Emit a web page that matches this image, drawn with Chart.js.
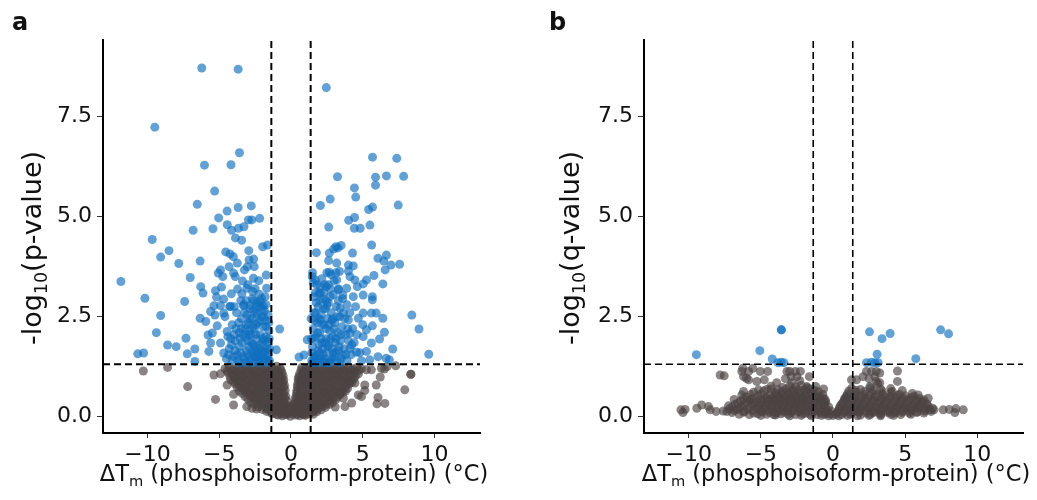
<!DOCTYPE html>
<html>
<head>
<meta charset="utf-8">
<title>Volcano plots</title>
<script src="https://cdn.jsdelivr.net/npm/chart.js@4.4.0/dist/chart.umd.min.js"></script>
<style>
  html, body { margin: 0; padding: 0; background: #fff; }
  #wrap { position: relative; width: 1037px; height: 500px; overflow: hidden; font-family: "DejaVu Sans", sans-serif; color: #111; }
  canvas { position: absolute; top: 0; }
  #cA { left: 0; }
  #cB { left: 518px; }
  .tag { position: absolute; font-weight: bold; font-size: 24px; line-height: 1; }
  .ytitle { position: absolute; font-size: 27px; line-height: 1; white-space: nowrap; transform: translate(-50%, -50%) rotate(-90deg); }
  .xtitle { position: absolute; font-size: 22.5px; line-height: 1; white-space: nowrap; transform: translateX(-50%); }
  sub { font-size: 0.65em; vertical-align: -0.35em; line-height: 0; }
</style>
</head>
<body>
<div id="wrap">
  <canvas id="cA" width="518" height="500"></canvas>
  <canvas id="cB" width="519" height="500"></canvas>
  <div class="tag" style="left:12px; top:10px;">a</div>
  <div class="tag" style="left:549px; top:10px;">b</div>
  <div class="ytitle" style="left:31px; top:248px;">-log<sub>10</sub>(p-value)</div>
  <div class="ytitle" style="left:569px; top:248px;">-log<sub>10</sub>(q-value)</div>
  <div class="xtitle" style="left:294px; top:462px;">&Delta;T<sub>m</sub> (phosphoisoform-protein) (&deg;C)</div>
  <div class="xtitle" style="left:836px; top:462px;">&Delta;T<sub>m</sub> (phosphoisoform-protein) (&deg;C)</div>
</div>
<script>
// --- Data ---
// axis ranges / ticks (shared by both panels)
const xTicks = [-10, -5, 0, 5, 10];
const yTicks = [0, 2.5, 5, 7.5];
const xMin = -13.1, xMax = 13.17;
const yMin = -0.41, yMax = 9.42;
// cut-offs: |dTm| and -log10(0.05)
const fcCut = 1.37;
const sigCut = 1.31;

// panel a: significant (p < 0.05) points, [dTm, -log10 p]
const sigA = [
  [-6.22,8.72],[-3.68,8.69],[-9.49,7.24],[-3.59,6.60],[-6.03,6.29],[-4.18,6.30],[-5.32,5.64],[-6.53,5.31],
  [-3.68,5.23],[-2.77,5.27],[-4.45,5.14],[-5.04,4.97],[-2.97,4.92],[-2.73,4.92],[-2.18,4.96],[-6.82,4.66],
  [-5.44,4.70],[-4.44,4.80],[-4.14,4.66],[-3.66,4.71],[-3.28,4.75],[-3.87,4.47],[-3.44,4.41],[-9.67,4.43],
  [-1.97,4.25],[-1.64,4.29],[-8.50,4.15],[-9.08,3.99],[-7.82,3.83],[-6.33,3.89],[-4.55,4.12],[-4.25,4.07],
  [-4.02,4.00],[-2.94,4.15],[-2.92,3.92],[-2.60,3.94],[-3.74,3.84],[-4.31,3.75],[-3.04,3.75],[-2.56,3.75],
  [-4.91,3.67],[-3.24,3.67],[-5.07,3.59],[-4.00,3.59],[-1.73,3.54],[-11.85,3.38],[-7.02,3.48],[-4.75,3.50],
  [-3.88,3.50],[-2.62,3.46],[-3.38,3.39],[-6.29,3.25],[-4.84,3.24],[-3.72,3.19],[-3.08,3.21],[-1.70,3.21],
  [-5.26,3.15],[-6.13,3.09],[-4.16,3.07],[-3.42,3.07],[-2.67,3.13],[-2.21,3.06],[-10.18,2.96],[-7.41,2.88],
  [-5.19,2.99],[-4.69,2.94],[-3.13,2.90],[-2.16,2.88],[-5.37,2.77],[-4.91,2.78],[-4.22,2.76],[-3.31,2.77],
  [-2.85,2.78],[-2.39,2.76],[-1.94,2.77],[-9.08,2.53],[-9.38,2.10],[-6.33,2.46],[-5.94,2.38],[-5.60,2.63],
  [-5.30,2.54],[-5.14,2.27],[-5.78,2.04],[-5.48,2.09],[-7.32,1.96],[-8.60,1.79],[-8.00,1.75],[-10.68,1.57],
  [-10.27,1.59],[-7.23,1.57],[-6.70,1.69],[-6.70,1.38],[-5.72,1.63],[-5.60,1.84],[-4.91,1.84],[-4.69,1.59],
  [-4.45,2.13],[-4.27,2.75],[-4.69,2.59],[-0.79,2.19],[-1.02,1.67],
  [-4.5,1.45],[-4.3,1.7],[-4.1,2.3],[-4.0,1.5],[-3.9,1.9],[-3.8,2.6],[-3.7,1.4],[-3.6,2.1],[-3.5,1.6],
  [-3.45,2.45],[-3.4,1.85],[-3.3,2.8],[-3.25,1.45],[-3.2,2.2],[-3.1,1.65],[-3.05,2.55],[-3.0,1.9],[-2.95,2.35],
  [-2.9,1.4],[-2.85,2.7],[-2.8,2.05],[-2.75,1.6],[-2.7,2.45],[-2.65,1.8],[-2.6,2.9],[-2.55,2.2],[-2.5,1.5],
  [-2.45,2.6],[-2.4,1.95],[-2.35,1.38],[-2.3,2.35],[-2.25,1.7],[-2.2,2.75],[-2.15,2.05],[-2.1,1.5],[-2.05,2.5],
  [-2.0,1.85],[-1.95,2.25],[-1.9,1.42],[-1.85,2.65],[-1.8,1.65],[-1.75,2.0],[-1.7,2.4],[-1.65,1.5],[-1.6,1.85],
  [-1.55,2.15],[-1.5,1.4],[-1.48,1.7],[-3.55,1.35],[-3.15,1.35],[-2.7,1.35],[-2.2,1.35],[-1.7,1.35],[-4.2,1.95],
  [-3.85,2.2],[-3.35,2.05],[-2.9,2.15],[-2.45,2.3],[-2.0,2.7],[-2.6,1.55],[-2.3,1.6],[-1.95,1.6],[-3.0,1.55],
  [-2.8,1.45],[-2.5,1.75],[-2.15,1.8],[-1.8,1.9],[-3.6,1.75],[-4.4,2.0],[-4.6,2.5],[-3.95,2.75],[-3.5,2.9],
  [-1.6,2.55],[-1.75,2.8],[-2.35,2.85],[-1.58,1.55],
  [-4.35,1.55],[-4.15,1.8],[-3.95,2.05],[-3.75,1.55],[-3.65,2.35],[-3.55,1.95],[-3.35,1.5],[-3.25,2.6],
  [-3.15,2.0],[-2.95,1.75],[-2.85,2.45],[-2.75,1.85],[-2.65,2.25],[-2.55,1.65],[-2.45,2.05],[-2.35,2.55],
  [-2.25,1.45],[-2.15,2.4],[-2.05,1.65],[-1.95,1.95],[-1.85,1.45],[-1.75,2.25],[-1.65,1.7],[-1.55,2.35],
  [-1.52,1.95],[-2.05,2.95],[-2.5,3.2],[-2.25,3.4],[-3.0,3.3],[-1.8,3.0],[-2.7,2.95],[-3.1,2.3],[-3.9,1.65],
  [-4.1,1.4],[-2.4,1.5],[-2.95,2.05],[-3.45,2.2],[-2.6,2.65],[-1.9,2.5],[-1.6,1.4],
  [2.46,8.23],[5.68,6.49],[7.37,6.46],[3.24,6.00],[5.89,5.99],[6.65,6.02],[7.85,6.01],[5.89,5.79],[4.42,5.72],
  [4.51,5.49],[2.73,5.44],[2.05,5.28],[7.47,5.29],[5.68,5.24],[5.41,5.18],[4.43,4.98],[4.02,4.91],[2.63,4.74],
  [4.41,4.71],[4.82,4.71],[5.50,4.79],[5.62,4.29],[3.13,4.25],[3.49,4.28],[1.77,4.10],[2.67,4.09],[2.97,4.19],
  [3.27,4.22],[4.29,4.09],[6.06,3.96],[6.65,4.04],[6.47,3.89],[6.97,3.79],[7.57,3.81],[6.56,3.67],[5.78,3.53],
  [6.40,3.32],[2.62,3.90],[3.19,3.84],[4.00,3.79],[4.34,3.77],[4.00,3.64],[2.67,3.61],[3.13,3.60],[3.38,3.63],
  [1.48,3.50],[1.70,3.42],[2.05,3.25],[2.46,3.25],[3.19,3.42],[4.11,3.50],[4.45,3.42],[5.26,3.42],[5.03,3.32],
  [4.62,3.25],[3.88,3.21],[3.31,3.17],[2.05,3.09],[2.73,3.00],[3.61,3.04],[4.34,3.00],[5.03,3.04],[5.67,3.00],
  [5.67,2.92],[8.42,2.54],[8.92,2.19],[9.60,1.56],[6.40,2.46],[5.94,2.59],[5.60,2.59],[5.03,2.59],[4.69,2.46],
  [5.67,2.27],[5.26,2.17],[5.03,2.00],[6.51,2.11],[6.17,1.94],[5.60,1.84],[5.26,1.63],[4.57,1.61],[7.09,1.69],
  [6.06,1.50],[6.63,1.46],[6.86,1.42],[5.48,1.42],[4.91,1.40],[4.23,1.79],[4.11,2.09],[4.00,2.42],[3.42,2.71],
  [2.51,2.79],[0.56,1.49],[0.91,1.54],[1.13,1.92],[1.70,2.59],[2.05,2.42],
  [1.45,1.4],[1.5,1.75],[1.55,2.2],[1.6,2.6],[1.65,1.5],[1.7,2.0],[1.75,2.85],[1.8,1.38],[1.85,2.35],[1.9,1.65],
  [1.95,3.1],[2.0,2.1],[2.05,1.45],[2.1,2.55],[2.15,1.85],[2.2,2.95],[2.25,1.55],[2.3,2.3],[2.35,1.35],[2.4,2.7],
  [2.45,1.95],[2.5,1.6],[2.55,2.45],[2.6,3.3],[2.65,1.8],[2.7,2.15],[2.75,1.4],[2.8,2.6],[2.85,1.7],[2.9,2.0],
  [2.95,3.05],[3.0,1.5],[3.05,2.35],[3.1,1.85],[3.15,2.75],[3.2,1.4],[3.25,2.1],[3.3,1.65],[3.4,2.5],[3.45,1.9],
  [3.5,1.45],[3.55,2.25],[3.6,2.95],[3.7,1.7],[3.8,2.05],[3.9,1.4],[4.0,1.9],[4.1,2.6],[4.2,1.55],[4.3,2.2],
  [4.4,1.85],[1.5,1.35],[1.7,1.35],[2.0,1.35],[2.6,1.35],[3.4,1.35],[2.3,3.1],[1.8,3.3],[2.15,3.45],[2.8,3.55],
  [1.6,3.0],[3.3,3.2],[2.45,2.9],[1.95,2.45],[2.7,1.35],[3.75,2.45],[4.6,2.05],[4.8,1.6],[5.0,2.3],[1.4,2.45],
  [1.42,1.95],[1.5,3.6],[1.55,3.35],[3.9,2.8],[4.5,2.75],[2.9,2.45],[3.1,1.6],[2.2,1.7],
  [1.45,1.6],[1.55,1.95],[1.65,2.4],[1.75,1.55],[1.85,2.1],[1.9,2.75],[2.0,1.6],[2.1,1.95],[2.15,2.3],[2.25,2.7],
  [2.3,1.45],[2.4,1.85],[2.45,2.2],[2.55,1.75],[2.6,2.85],[2.65,2.3],[2.75,1.95],[2.85,2.4],[2.95,1.6],[3.0,2.2],
  [3.15,1.95],[3.2,2.5],[3.35,1.75],[3.5,2.05],[3.6,1.55],[3.65,2.6],[3.8,1.55],[3.95,2.2],[4.1,1.7],[2.0,2.9],
  [2.35,3.3],[1.7,3.1],[2.75,3.2],[3.0,3.4],[2.5,3.6],[2.2,1.4],[1.6,1.45],[1.95,1.8],[2.85,1.45],[3.3,2.9]
];

// panel a: non-significant points
const nsA = [
  [-10.29,1.14],[-8.60,1.23],[-7.20,0.75],[-5.26,0.43],[-4.00,0.29],[-5.37,1.04],[-4.91,1.07],[-4.45,0.79],
  [-4.00,0.56],[-2.73,0.21],[-2.39,0.19],[-3.08,0.25],
  [8.35,1.06],[8.35,1.06],[7.93,0.67],[5.99,0.32],[6.06,0.48],[5.94,0.79],[6.22,0.99],[6.51,1.19],[5.60,1.17],
  [5.14,0.79],[5.14,0.65],[4.69,0.54],[5.26,1.17],[4.91,0.50],[4.23,0.34],[3.76,0.25],[3.08,0.24],[3.65,0.46],
  [4.45,0.84],[6.54,0.33],[6.3,1.21],[6.7,1.25],[7.3,1.27],
  [-4.6,1.2],[-4.3,1.25],[-4.0,1.18],[-3.7,1.24],[-3.4,1.21],[-3.1,1.26],[-2.8,1.19],[-2.5,1.23],[-2.2,1.26],
  [-1.9,1.2],[-1.6,1.24],[-1.3,1.22],[-1.0,1.26],[-0.75,1.21],
  [-4.4,1.1],[-4.1,1.06],[-3.8,1.11],[-3.5,1.05],[-3.2,1.09],[-2.9,1.12],[-2.6,1.06],[-2.3,1.1],[-2.0,1.07],
  [-1.7,1.11],[-1.4,1.05],[-1.1,1.09],[-0.85,1.06],[-0.62,1.1],
  [-4.2,0.92],[-3.9,0.96],[-3.6,0.93],[-3.3,0.97],[-3.0,0.91],[-2.7,0.95],[-2.4,0.98],[-2.1,0.92],[-1.8,0.95],
  [-1.5,0.91],[-1.2,0.96],[-0.95,0.93],[-0.7,0.97],[-0.5,0.92],
  [-3.9,0.82],[-3.6,0.78],[-3.3,0.81],[-3.0,0.77],[-2.7,0.83],[-2.4,0.79],[-2.1,0.8],[-1.8,0.84],[-1.5,0.78],
  [-1.2,0.81],[-0.9,0.79],[-0.65,0.83],[-0.45,0.78],
  [-3.6,0.64],[-3.3,0.68],[-3.0,0.65],[-2.7,0.69],[-2.4,0.63],[-2.1,0.67],[-1.8,0.64],[-1.5,0.68],[-1.2,0.66],
  [-0.9,0.63],[-0.65,0.67],[-0.4,0.65],
  [-3.2,0.5],[-2.9,0.54],[-2.6,0.51],[-2.3,0.55],[-2.0,0.49],[-1.7,0.53],[-1.4,0.5],[-1.1,0.54],[-0.85,0.51],
  [-0.6,0.53],[-0.35,0.5],
  [-2.8,0.36],[-2.5,0.4],[-2.2,0.37],[-1.9,0.41],[-1.6,0.35],[-1.3,0.39],[-1.0,0.37],[-0.75,0.4],[-0.5,0.36],
  [-0.28,0.39],
  [-2.3,0.24],[-2.0,0.27],[-1.7,0.23],[-1.4,0.26],[-1.1,0.24],[-0.8,0.27],[-0.55,0.23],[-0.3,0.26],[-0.1,0.24],
  [-1.7,0.13],[-1.4,0.1],[-1.1,0.14],[-0.8,0.11],[-0.5,0.13],[-0.25,0.1],[0.0,0.12],
  [-0.9,0.04],[-0.6,0.02],[-0.3,0.05],[-0.05,0.01],
  [-4.45,1.15],[-4.15,1.16],[-3.85,1.14],[-3.55,1.17],[-3.25,1.15],[-2.95,1.16],[-2.65,1.14],[-2.35,1.17],
  [-2.05,1.15],[-1.75,1.16],[-1.45,1.14],[-1.15,1.17],[-0.9,1.15],[-0.7,1.16],
  [-4.25,1.0],[-3.95,1.02],[-3.65,0.99],[-3.35,1.01],[-3.05,1.03],[-2.75,1.0],[-2.45,1.02],[-2.15,0.99],
  [-1.85,1.01],[-1.55,1.03],[-1.25,1.0],[-0.95,1.02],[-0.7,0.99],[-0.55,1.02],
  [-4.0,0.87],[-3.75,0.88],[-3.45,0.86],[-3.15,0.89],[-2.85,0.87],[-2.55,0.88],[-2.25,0.86],[-1.95,0.88],
  [-1.65,0.87],[-1.35,0.89],[-1.05,0.86],[-0.8,0.88],[-0.55,0.86],
  [-3.75,0.73],[-3.45,0.72],[-3.15,0.74],[-2.85,0.71],[-2.55,0.73],[-2.25,0.74],[-1.95,0.72],[-1.65,0.73],
  [-1.35,0.71],[-1.05,0.74],[-0.8,0.72],[-0.5,0.73],
  [-3.4,0.58],[-3.1,0.6],[-2.8,0.57],[-2.5,0.59],[-2.2,0.61],[-1.9,0.58],[-1.6,0.6],[-1.3,0.57],[-1.0,0.59],
  [-0.75,0.6],[-0.5,0.58],
  [-3.0,0.44],[-2.7,0.46],[-2.4,0.43],[-2.1,0.45],[-1.8,0.47],[-1.5,0.44],[-1.2,0.46],[-0.95,0.43],[-0.7,0.45],
  [-0.45,0.46],
  [-2.55,0.31],[-2.25,0.3],[-1.95,0.32],[-1.65,0.29],[-1.35,0.31],[-1.05,0.33],[-0.8,0.3],[-0.55,0.32],[-0.35,0.3],
  [-2.0,0.18],[-1.7,0.19],[-1.4,0.17],[-1.1,0.19],[-0.8,0.18],[-0.55,0.17],[-0.3,0.19],[-0.1,0.17],
  [-1.3,0.07],[-1.0,0.06],[-0.7,0.08],[-0.45,0.06],[-0.2,0.07],
  [0.75,1.23],[1.0,1.19],[1.3,1.25],[1.6,1.21],[1.9,1.24],[2.2,1.19],[2.5,1.26],[2.8,1.22],[3.1,1.2],[3.4,1.25],
  [3.7,1.21],[4.0,1.24],[4.3,1.19],[4.6,1.23],[4.9,1.2],
  [0.6,1.07],[0.85,1.11],[1.1,1.05],[1.4,1.09],[1.7,1.12],[2.0,1.06],[2.3,1.1],[2.6,1.07],[2.9,1.11],[3.2,1.05],
  [3.5,1.09],[3.8,1.12],[4.1,1.06],[4.4,1.1],[4.7,1.07],
  [0.5,0.95],[0.7,0.91],[0.95,0.96],[1.2,0.93],[1.5,0.97],[1.8,0.92],[2.1,0.95],[2.4,0.91],[2.7,0.96],[3.0,0.93],
  [3.3,0.97],[3.6,0.92],[3.9,0.95],[4.2,0.91],[4.4,0.96],
  [0.45,0.79],[0.65,0.83],[0.9,0.78],[1.2,0.82],[1.5,0.79],[1.8,0.84],[2.1,0.8],[2.4,0.77],[2.7,0.83],[3.0,0.8],
  [3.3,0.78],[3.6,0.82],[3.9,0.79],[4.1,0.83],
  [0.4,0.65],[0.65,0.68],[0.9,0.63],[1.2,0.67],[1.5,0.64],[1.8,0.69],[2.1,0.65],[2.4,0.63],[2.7,0.68],[3.0,0.66],
  [3.3,0.63],[3.6,0.67],[3.8,0.64],
  [0.35,0.51],[0.6,0.54],[0.85,0.5],[1.1,0.53],[1.4,0.49],[1.7,0.54],[2.0,0.51],[2.3,0.55],[2.6,0.5],[2.9,0.53],
  [3.2,0.49],[3.4,0.54],
  [0.28,0.37],[0.5,0.4],[0.75,0.36],[1.0,0.39],[1.3,0.37],[1.6,0.41],[1.9,0.36],[2.2,0.39],[2.5,0.37],[2.75,0.4],
  [2.9,0.35],
  [0.1,0.26],[0.3,0.23],[0.55,0.27],[0.8,0.24],[1.1,0.26],[1.4,0.23],[1.7,0.27],[2.0,0.24],[2.2,0.26],[2.4,0.23],
  [0.25,0.11],[0.5,0.14],[0.8,0.1],[1.1,0.13],[1.4,0.11],[1.6,0.14],[1.8,0.12],
  [0.3,0.04],[0.6,0.02],[0.85,0.05],[1.0,0.03],
  [0.7,1.16],[0.9,1.14],[1.15,1.17],[1.45,1.15],[1.75,1.16],[2.05,1.14],[2.35,1.17],[2.65,1.15],[2.95,1.16],
  [3.25,1.14],[3.55,1.17],[3.85,1.15],[4.15,1.16],[4.45,1.14],[4.75,1.16],
  [0.55,1.0],[0.75,1.02],[1.0,0.99],[1.25,1.01],[1.55,1.03],[1.85,1.0],[2.15,1.02],[2.45,0.99],[2.75,1.01],
  [3.05,1.03],[3.35,1.0],[3.65,1.02],[3.95,0.99],[4.25,1.01],[4.5,1.02],
  [0.5,0.87],[0.8,0.88],[1.05,0.86],[1.35,0.89],[1.65,0.87],[1.95,0.88],[2.25,0.86],[2.55,0.88],[2.85,0.87],
  [3.15,0.89],[3.45,0.86],[3.75,0.88],[4.05,0.87],[4.25,0.86],
  [0.45,0.73],[0.75,0.72],[1.05,0.74],[1.35,0.71],[1.65,0.73],[1.95,0.74],[2.25,0.72],[2.55,0.73],[2.85,0.71],
  [3.15,0.74],[3.45,0.72],[3.75,0.73],[3.95,0.71],
  [0.4,0.58],[0.7,0.6],[1.0,0.57],[1.3,0.59],[1.6,0.61],[1.9,0.58],[2.2,0.6],[2.5,0.57],[2.8,0.59],[3.1,0.6],
  [3.4,0.58],[3.6,0.6],
  [0.3,0.44],[0.55,0.46],[0.85,0.43],[1.15,0.45],[1.45,0.47],[1.75,0.44],[2.05,0.46],[2.35,0.43],[2.65,0.45],
  [2.95,0.46],[3.15,0.44],
  [0.2,0.31],[0.45,0.3],[0.7,0.32],[0.95,0.29],[1.25,0.31],[1.55,0.33],[1.85,0.3],[2.15,0.32],[2.45,0.3],[2.7,0.31],
  [0.1,0.18],[0.35,0.19],[0.65,0.17],[0.95,0.19],[1.25,0.18],[1.55,0.17],[1.85,0.19],[2.1,0.17],
  [0.15,0.07],[0.45,0.06],[0.7,0.08],[1.0,0.06],[1.3,0.07],[1.55,0.06]
];

// panel b: significant (q < 0.05) points, [dTm, -log10 q]
const sigB = [
  [-9.47,1.55],[-5.07,1.65],[-4.21,1.44],[-3.58,2.17],[-3.58,2.17],[-3.82,1.35],[-3.40,1.35],[-3.6,1.36],
  [2.53,2.12],[3.40,1.95],[3.96,2.08],[7.46,2.17],[8.01,2.07],[3.06,1.56],[5.74,1.45],[2.32,1.35],[2.67,1.36],
  [3.13,1.35],[2.9,1.35]
];

// panel b: non-significant points
const nsB = [
  [-10.54,0.17],[-10.25,0.18],[-10.4,0.1],[-9.44,0.21],[-9.10,0.29],[-8.63,0.25],[-8.51,0.17],[-8.10,0.13],
  [-7.82,1.04],[-7.54,1.02],[-7.24,0.27],[-7.36,0.13],[-6.85,0.43],[-6.32,0.54],[-6.2,0.63],[-6.67,0.17],
  [-6.32,1.13],[-5.85,1.13],[-6.2,1.0],[-5.85,0.92],[-5.74,0.42],[-5.28,0.88],[-5.16,0.67],[-4.76,0.92],
  [-5.04,1.13],[-4.53,1.13],[-4.28,0.69],[-3.19,1.13],[-2.61,1.13],[-2.26,1.13],[-2.85,0.85],[-2.5,1.0],
  [-1.81,0.75],[-1.64,1.0],[-0.65,0.69],[-0.53,0.42],[-6.25,1.21],[-5.56,1.21],[-6.0,0.96],[-3.0,1.13],
  [-2.9,1.0],[-3.3,0.95],[-2.3,0.9],[-3.9,0.85],
  [4.47,1.14],[4.47,0.88],[2.32,1.13],[2.67,1.13],[3.24,1.09],[1.28,0.92],[1.63,0.92],[2.08,1.0],[3.24,0.85],
  [2.55,0.75],[0.81,0.46],[6.6,0.46],[5.9,0.54],[7.64,0.17],[8.06,0.18],[8.52,0.2],[9.03,0.17],[8.45,0.1],
  [6.72,0.17],[2.9,1.0],[3.0,1.13],[2.5,0.95],[3.0,0.88],[3.1,0.82],
  [-4.3,0.76],[-3.5,0.73],[-3.0,0.77],[-2.6,0.74],[-2.2,0.78],[-1.8,0.72],[-1.2,0.75],
  [-5.5,0.61],[-4.8,0.64],[-4.0,0.6],[-3.5,0.63],[-3.1,0.6],[-2.7,0.64],[-2.3,0.61],[-1.9,0.63],[-1.5,0.6],[-1.0,0.62],
  [-6.0,0.49],[-5.2,0.52],[-4.6,0.48],[-4.1,0.51],[-3.7,0.5],[-3.3,0.53],[-2.9,0.49],[-2.5,0.51],[-2.1,0.48],
  [-1.7,0.52],[-1.3,0.5],[-0.9,0.49],
  [-6.4,0.39],[-5.8,0.41],[-5.3,0.38],[-4.8,0.42],[-4.4,0.4],[-4.0,0.38],[-3.6,0.41],[-3.2,0.39],[-2.8,0.42],
  [-2.4,0.38],[-2.0,0.4],[-1.6,0.41],[-1.2,0.38],[-0.8,0.4],[-0.5,0.37],
  [-6.8,0.3],[-6.2,0.28],[-5.6,0.31],[-5.1,0.29],[-4.6,0.32],[-4.2,0.28],[-3.8,0.3],[-3.4,0.31],[-3.0,0.28],
  [-2.6,0.3],[-2.2,0.32],[-1.8,0.29],[-1.4,0.3],[-1.0,0.28],[-0.6,0.3],
  [-7.2,0.19],[-6.5,0.21],[-5.9,0.18],[-5.3,0.2],[-4.8,0.22],[-4.3,0.19],[-3.9,0.21],[-3.5,0.18],[-3.1,0.2],
  [-2.7,0.22],[-2.3,0.19],[-1.9,0.2],[-1.5,0.21],[-1.1,0.18],[-0.7,0.2],[-0.4,0.17],
  [-7.0,0.1],[-6.2,0.11],[-5.5,0.09],[-4.9,0.12],[-4.4,0.1],[-3.9,0.09],[-3.4,0.11],[-2.9,0.1],[-2.4,0.12],
  [-1.9,0.09],[-1.4,0.11],[-0.9,0.1],[-0.5,0.08],
  [-5.0,0.03],[-4.0,0.04],[-3.0,0.02],[-2.2,0.03],[-1.5,0.02],[-0.8,0.03],[-0.3,0.02],[0.0,0.03],
  [-4.6,0.68],[-3.8,0.67],[-3.25,0.69],[-2.85,0.66],[-2.45,0.68],[-2.0,0.67],[-1.6,0.69],[-1.3,0.66],
  [-5.7,0.55],[-5.0,0.56],[-4.35,0.54],[-3.9,0.56],[-3.5,0.55],[-3.1,0.57],[-2.7,0.54],[-2.3,0.56],[-1.9,0.55],
  [-1.5,0.57],[-1.1,0.54],[-0.7,0.55],
  [-6.2,0.44],[-5.55,0.45],[-5.05,0.43],[-4.6,0.45],[-4.2,0.44],[-3.8,0.46],[-3.4,0.43],[-3.0,0.45],[-2.6,0.44],
  [-2.2,0.46],[-1.8,0.43],[-1.4,0.45],[-1.0,0.44],[-0.65,0.46],
  [-6.6,0.34],[-6.0,0.35],[-5.45,0.33],[-4.95,0.35],[-4.5,0.34],[-4.1,0.36],[-3.7,0.33],[-3.3,0.35],[-2.9,0.34],
  [-2.5,0.36],[-2.1,0.33],[-1.7,0.35],[-1.3,0.34],[-0.9,0.36],[-0.55,0.33],
  [-7.0,0.24],[-6.35,0.25],[-5.75,0.23],[-5.2,0.25],[-4.7,0.24],[-4.25,0.26],[-3.85,0.23],[-3.45,0.25],
  [-3.05,0.24],[-2.65,0.26],[-2.25,0.23],[-1.85,0.25],[-1.45,0.24],[-1.05,0.26],[-0.65,0.23],[-0.3,0.24],
  [-7.6,0.14],[-6.85,0.15],[-6.15,0.13],[-5.55,0.15],[-5.0,0.14],[-4.5,0.16],[-4.05,0.13],[-3.6,0.15],
  [-3.15,0.14],[-2.7,0.16],[-2.25,0.13],[-1.75,0.15],[-1.3,0.14],[-0.85,0.15],[-0.45,0.13],[-0.15,0.14],
  [-6.5,0.06],[-5.8,0.05],[-5.2,0.07],[-4.6,0.06],[-4.1,0.05],[-3.6,0.07],[-3.1,0.06],[-2.6,0.05],[-2.1,0.07],
  [-1.6,0.06],[-1.1,0.05],[-0.6,0.06],[-0.2,0.07],[0.2,0.06],
  [1.3,0.71],[1.9,0.68],[2.6,0.72],[3.3,0.69],[4.0,0.7],
  [1.0,0.57],[1.6,0.6],[2.2,0.56],[2.8,0.59],[3.4,0.57],[4.0,0.6],[4.6,0.56],[5.5,0.58],
  [0.9,0.47],[1.4,0.45],[1.9,0.48],[2.4,0.46],[2.9,0.49],[3.4,0.45],[3.9,0.47],[4.4,0.48],[4.9,0.46],[5.4,0.47],[6.0,0.45],
  [0.7,0.36],[1.2,0.38],[1.7,0.35],[2.2,0.37],[2.7,0.39],[3.2,0.36],[3.7,0.38],[4.2,0.35],[4.7,0.37],[5.2,0.38],
  [5.7,0.36],[6.2,0.37],
  [0.5,0.27],[1.0,0.25],[1.5,0.28],[2.0,0.26],[2.5,0.27],[3.0,0.25],[3.5,0.28],[4.0,0.26],[4.5,0.27],[5.0,0.25],
  [5.5,0.28],[6.0,0.26],[6.6,0.27],
  [0.4,0.17],[0.9,0.19],[1.4,0.16],[1.9,0.18],[2.4,0.2],[2.9,0.17],[3.4,0.19],[3.9,0.16],[4.4,0.18],[4.9,0.2],
  [5.4,0.17],[5.9,0.19],[6.4,0.18],[7.0,0.17],
  [0.3,0.09],[0.8,0.1],[1.3,0.08],[1.8,0.11],[2.3,0.09],[2.8,0.1],[3.3,0.08],[3.8,0.1],[4.3,0.09],[4.8,0.11],
  [5.3,0.09],[5.8,0.1],[6.3,0.09],
  [0.4,0.02],[1.0,0.03],[1.7,0.02],[2.5,0.03],[3.3,0.02],[4.2,0.03],
  [1.1,0.64],[1.6,0.65],[2.2,0.63],[2.8,0.66],[3.4,0.64],[4.1,0.63],[4.8,0.65],
  [0.95,0.52],[1.45,0.53],[1.95,0.51],[2.45,0.53],[2.95,0.52],[3.45,0.54],[3.95,0.51],[4.45,0.53],[5.0,0.52],[5.6,0.51],
  [0.8,0.42],[1.3,0.41],[1.8,0.43],[2.3,0.42],[2.8,0.41],[3.3,0.43],[3.8,0.42],[4.3,0.41],[4.8,0.43],[5.3,0.42],
  [5.8,0.41],[6.3,0.42],
  [0.6,0.32],[1.1,0.31],[1.6,0.33],[2.1,0.32],[2.6,0.31],[3.1,0.33],[3.6,0.32],[4.1,0.31],[4.6,0.33],[5.1,0.32],
  [5.6,0.31],[6.1,0.33],[6.5,0.32],
  [0.45,0.22],[0.95,0.21],[1.45,0.23],[1.95,0.22],[2.45,0.21],[2.95,0.23],[3.45,0.22],[3.95,0.21],[4.45,0.23],
  [4.95,0.22],[5.45,0.21],[5.95,0.23],[6.45,0.22],[6.9,0.21],
  [0.35,0.13],[0.85,0.14],[1.35,0.12],[1.85,0.14],[2.35,0.13],[2.85,0.12],[3.35,0.14],[3.85,0.13],[4.35,0.12],
  [4.85,0.14],[5.35,0.13],[5.85,0.12],[6.35,0.14],[6.8,0.13],
  [0.6,0.05],[1.2,0.06],[1.9,0.04],[2.6,0.06],[3.3,0.05],[4.0,0.06],[4.7,0.05],[5.4,0.06]
];

// --- Styles ---
const blue = 'rgba(16,110,190,0.65)';
const grey = 'rgba(75,68,66,0.65)';
const tickFont = { family: 'DejaVu Sans', size: 22 };

// --- Helpers ---
function toPts(arr) {
  return arr.map(p => ({ x: p[0], y: p[1] }));
}
function fmtX(v) {
  return v < 0 ? '\u2212' + Math.abs(v) : String(v);
}

function refLine(pts, w) {
  return {
    data: toPts(pts),
    showLine: true,
    fill: false,
    borderColor: '#000',
    borderWidth: w,
    borderDash: [7, 4],
    pointRadius: 0,
    order: 0
  };
}

function makePanel(canvasId, sig, ns, axisWidth, padRight, lineW) {
  const ctx = document.getElementById(canvasId).getContext('2d');
  return new Chart(ctx, {
    type: 'scatter',
    data: {
      datasets: [
        refLine([[-fcCut, yMin], [-fcCut, yMax]], lineW),
        refLine([[fcCut, yMin], [fcCut, yMax]], lineW),
        refLine([[xMin, sigCut], [xMax, sigCut]], lineW),
        { data: toPts(sig), backgroundColor: blue, pointRadius: 4.5, borderWidth: 0, order: 1 },
        { data: toPts(ns), backgroundColor: grey, pointRadius: 4.5, borderWidth: 0, order: 2 }
      ]
    },
    options: {
      responsive: false,
      animation: false,
      events: [],
      layout: { padding: { top: 40, right: padRight, bottom: 0, left: 0 } },
      plugins: { legend: { display: false }, tooltip: { enabled: false } },
      scales: {
        x: {
          type: 'linear',
          min: xMin,
          max: xMax,
          afterFit(s) { s.height = 67; },
          afterBuildTicks(s) { s.ticks = xTicks.map(v => ({ value: v })); },
          ticks: { font: tickFont, color: '#111', padding: 4, maxRotation: 0, autoSkip: false, callback: v => fmtX(v) },
          grid: { drawOnChartArea: false, tickLength: 5, tickColor: '#333', tickWidth: 1 },
          border: { display: true, color: '#000', width: 2 }
        },
        y: {
          type: 'linear',
          min: yMin,
          max: yMax,
          afterFit(s) { s.width = axisWidth; },
          afterBuildTicks(s) { s.ticks = yTicks.map(v => ({ value: v })); },
          ticks: { font: tickFont, color: '#111', padding: 5, callback: v => v.toFixed(1) },
          grid: { drawOnChartArea: false, tickLength: 6, tickColor: '#333', tickWidth: 1 },
          border: { display: true, color: '#000', width: 2 }
        }
      }
    }
  });
}

// --- init ---
makePanel('cA', sigA, nsA, 103, 38, 2);
makePanel('cB', sigB, nsB, 126, 14, 1.6);
</script>
</body>
</html>
